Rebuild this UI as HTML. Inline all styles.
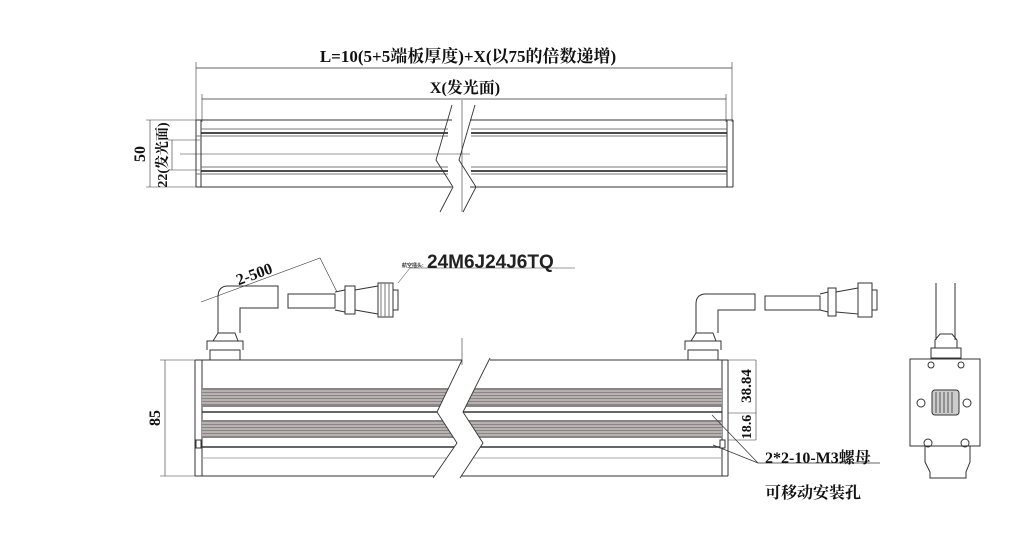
<!DOCTYPE html>
<html><head><meta charset="utf-8"><style>
html,body{margin:0;padding:0;background:#fff;width:1013px;height:542px;overflow:hidden}
svg{display:block}
.t{font-family:"Liberation Serif","Noto Serif CJK SC",serif;font-weight:bold;fill:#111}
</style></head><body>
<svg width="1013" height="542" viewBox="0 0 1013 542" xmlns="http://www.w3.org/2000/svg">
<defs>
<clipPath id="cl"><path d="M202 360 H462 L437 412 L457 443 L433 478 H202 Z"/></clipPath>
<clipPath id="cr"><path d="M490 360 H722 V478 H460 L483 443 L463 412 Z"/></clipPath>
<g id="gr" stroke="#333" fill="none">
<rect x="202" y="388" width="520" height="19" fill="#8a8484" stroke="none"/>
<rect x="202" y="420" width="520" height="18" fill="#8a8484" stroke="none"/>
<g stroke="#fff" stroke-width="0.8"><path d="M202 391 H722 M202 394 H722 M202 397 H722 M202 400 H722 M202 403 H722 M202 423 H722 M202 426 H722 M202 429 H722 M202 432 H722 M202 435 H722"/></g>
<path d="M202 412 H722 M202 447 H722" stroke-width="1.4"/>
<path d="M202 458 H722" stroke="#aaa"/>
</g>
</defs>
<g stroke="#333" fill="none" stroke-width="1">
<!-- TOP VIEW -->
<line x1="196" y1="68" x2="732" y2="68" stroke-width="0.8"/>
<line x1="196" y1="62" x2="196" y2="122" stroke-width="0.6"/>
<line x1="732" y1="62" x2="732" y2="122" stroke-width="0.6"/>
<line x1="202" y1="99" x2="726" y2="99" stroke-width="0.8"/>
<line x1="202" y1="94" x2="202" y2="122" stroke-width="0.6"/>
<line x1="726" y1="94" x2="726" y2="122" stroke-width="0.6"/>
<path d="M196 120 H452 M470 120 H733 M196 187 H452 M470 187 H733" />
<path d="M196 120 V187 M201 120 V187 M733 120 V187 M727 120 V187"/>
<g stroke-width="1.8"><path d="M201 133 H448 M471 133 H727 M201 171 H448 M471 171 H727"/></g>
<path d="M196 136 H448 M471 136 H727 M196 174 H448 M471 174 H727 M201 129 H448 M471 129 H727 M201 167 H448 M471 167 H727" stroke="#777"/>
<path d="M452 105 L436 160 L453 187 L440 212 M475 105 L459 160 L476 187 L463 212" stroke-width="0.9"/>
<line x1="462" y1="100" x2="462" y2="212" stroke-width="0.6"/>
<line x1="180" y1="154" x2="470" y2="154" stroke-width="0.5"/>
<line x1="150" y1="120" x2="150" y2="187" stroke-width="0.6"/>
<line x1="146" y1="120" x2="196" y2="120" stroke-width="0.5"/>
<line x1="146" y1="187" x2="196" y2="187" stroke-width="0.5"/>
<line x1="172" y1="140" x2="172" y2="170" stroke-width="0.6"/>
<line x1="168" y1="140" x2="200" y2="140" stroke-width="0.5"/>
<line x1="168" y1="170" x2="200" y2="170" stroke-width="0.5"/>

<!-- FRONT VIEW -->
<path d="M195 360 H462 M490 360 H728 M195 476 H434 M461 476 H728"/>
<path d="M195 360 V476 M202 360 V476 M728 360 V476 M722 360 V476"/>
<use href="#gr" clip-path="url(#cl)"/>
<use href="#gr" clip-path="url(#cr)"/>
<path d="M462 360 L437 412 L457 443 L433 478 M490 358 L463 412 L483 443 L460 478" stroke-width="0.9"/>
<line x1="462" y1="338" x2="462" y2="365" stroke-width="0.6"/>
<rect x="196" y="440" width="5" height="8" fill="#fff"/>
<rect x="720" y="440" width="5" height="8" fill="#fff"/>
<line x1="165" y1="360" x2="165" y2="476" stroke-width="0.6"/>
<line x1="160" y1="360" x2="195" y2="360" stroke-width="0.5"/>
<line x1="160" y1="476" x2="195" y2="476" stroke-width="0.5"/>
<line x1="756" y1="360" x2="756" y2="440" stroke-width="0.6"/>
<line x1="728" y1="360" x2="756" y2="360" stroke-width="0.5"/>
<line x1="728" y1="413" x2="756" y2="413" stroke-width="0.5"/>
<line x1="728" y1="440" x2="756" y2="440" stroke-width="0.5"/>
<path d="M712 415 L758 463 H880 M713 445 L758 463" stroke-width="0.7"/>

<!-- left cable -->
<path d="M210 360 V350 H240 V360 M207 350 V341 H243 V350 M213 341 L218 333 H235 L238 341"/>
<path d="M218 333 V297 Q218 286 228 286 H278 V308 H240 V333"/>
<path d="M288 294 H335 V308 H288 Z" />
<path d="M335 292 L345 290 V312 L335 310"/>
<rect x="345" y="286" width="10" height="28"/>
<path d="M355 290 L378 286 V314 L355 310"/>
<rect x="378" y="283" width="15" height="34"/>
<rect x="393" y="290" width="5" height="20"/>
<path d="M381 283 V317 M385 283 V317 M389 283 V317" stroke="#777"/>
<path d="M201 302 L320 258 L337 292" stroke-width="0.6"/>
<path d="M398 283 L410 268 H575" stroke-width="0.5"/>

<!-- right cable -->
<path d="M688 360 V350 H718 V360 M685 350 V341 H721 V350 M691 341 L696 333 H713 L716 341"/>
<path d="M696 333 V304 Q696 294 706 294 H755 V310 H718 V333"/>
<path d="M765 296 H820 V310 H765 Z"/>
<path d="M820 294 L828 292 V312 L820 310"/>
<rect x="828" y="288" width="8" height="28"/>
<path d="M836 292 L858 288 V314 L836 312"/>
<rect x="858" y="283" width="14" height="34"/>
<rect x="872" y="290" width="5" height="20"/>

<!-- END VIEW -->
<path d="M936 283 V340 M955 283 V340"/>
<path d="M935 348 V340 L940 334 H952 L957 340 V348 M931 348 H961 V358 H931 Z"/>
<rect x="910" y="359" width="70" height="87"/>
<path d="M925 446 V462 L930 472 V478 H966 V472 L970 462 V446"/>
<circle cx="931" cy="365" r="3"/><circle cx="961" cy="365" r="3"/>
<circle cx="921" cy="403" r="4"/><circle cx="967" cy="403" r="4"/>
<circle cx="928" cy="443" r="4"/><circle cx="965" cy="443" r="4"/>
<rect x="932" y="390" width="27" height="25" rx="3" fill="#ccc"/>
<path d="M936 392 V413 M940 392 V413 M944 392 V413 M948 392 V413 M952 392 V413" stroke="#555"/>
</g>

<text class="t" x="468" y="62" font-size="17" text-anchor="middle">L=10(5+5端板厚度)+X(以75的倍数递增)</text>
<text class="t" x="465" y="93" font-size="16" text-anchor="middle">X(发光面)</text>
<text class="t" font-size="16" transform="translate(145 154) rotate(-90)" text-anchor="middle">50</text>
<text class="t" font-size="14" transform="translate(167 155) rotate(-90)" text-anchor="middle">22(发光面)</text>
<text class="t" font-size="16" transform="translate(160 418) rotate(-90)" text-anchor="middle">85</text>
<text class="t" font-size="15" transform="translate(751 386) rotate(-90)" text-anchor="middle">38.84</text>
<text class="t" font-size="14" transform="translate(751 427) rotate(-90)" text-anchor="middle">18.6</text>
<text class="t" font-size="16" transform="translate(256 279) rotate(-20)" text-anchor="middle">2-500</text>
<text x="402" y="267" font-family="Liberation Sans,Noto Sans CJK SC,sans-serif" font-size="5" font-weight="bold" fill="#333">航空插头:</text>
<text x="427" y="268" font-family="Liberation Sans,sans-serif" font-size="19" fill="#222" font-weight="bold">24M6J24J6TQ</text>
<text class="t" x="765" y="463" font-size="16">2*2-10-M3螺母</text>
<text class="t" x="765" y="498" font-size="16">可移动安装孔</text>
</svg>
</body></html>
